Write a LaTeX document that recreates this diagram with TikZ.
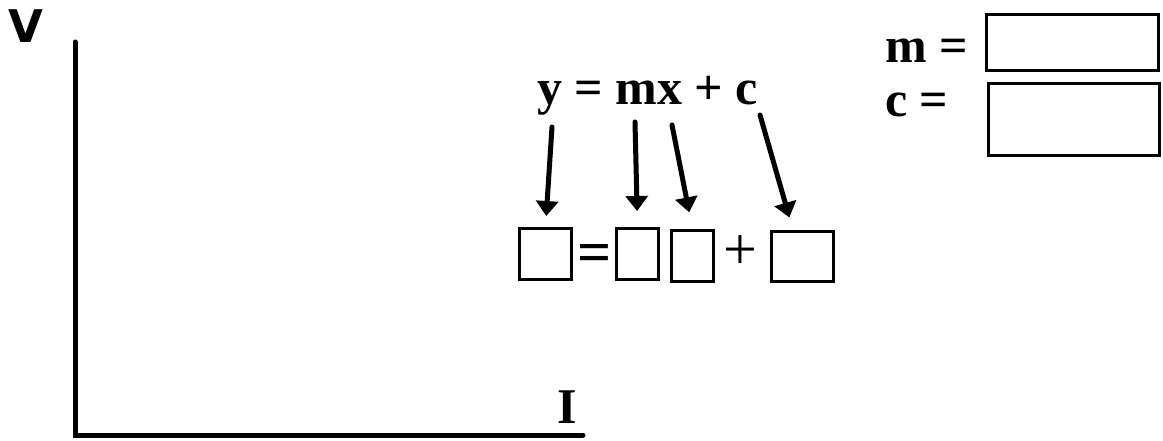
\documentclass[tikz,border=0pt]{standalone}
\usepackage{fontspec}
\setmainfont{Liberation Serif}
\newfontfamily\axisfont{DejaVu Sans}
\usetikzlibrary{positioning,arrows.meta}

\begin{document}
\begin{tikzpicture}[x=1pt, y=-1pt, >={Triangle[length=15pt,width=22pt]},
          blank/.style={draw, line width=3pt, inner sep=0pt, minimum height=51pt},
          bigtext/.style={font=\fontsize{50}{56}\selectfont\bfseries, inner sep=0pt},
          sign/.style={font=\fontsize{60}{66}\selectfont, inner sep=0pt},
          pointer/.style={->, line width=5pt, line cap=round}]
        \useasboundingbox (0,0) rectangle (1163,441);
        % axes
        \node[font=\fontsize{45}{50}\selectfont\axisfont\bfseries, inner sep=0pt] (vlab) at (26,26) {V};
        \draw[line width=5pt, line cap=round] (75,42) -- (75,435) -- (583,435);
        \node[bigtext, anchor=base] (ilab) at (567,423) {I};
        % equation and its boxes
        \node[bigtext, anchor=base west] (eq) at (537,105) {y = mx + c};
        \node[blank, minimum width=52pt] (b1) at (545.5,254) {};
        \node[sign, font=\fontsize{60}{66}\selectfont\bfseries] (eqs) at (595,258) {=};
        \node[blank, minimum width=42pt] (b2) at (637.5,254) {};
        \node[blank, minimum width=42pt] (b3) at (692.5,256) {};
        \node[sign] (pls) at (740,253) {+};
        \node[blank, minimum width=62pt, minimum height=50pt] (b4) at (802.5,256.5) {};
        \coordinate (s1) at (552,127);
        \coordinate (s2) at (635,122);
        \coordinate (s3) at (672,125);
        \coordinate (s4) at (760,115);
        \foreach \a/\b/\d in {s1/b1/11, s2/b2/16, s3/b3/17} { \draw[pointer, shorten >=\d pt] (\a) -- (\b.north); }
        \draw[pointer, shorten >=13pt] (s4) -- ([xshift=-9.5pt]b4.north);
        % answers
        \node[bigtext, anchor=base west] (mlab) at (885,63) {m =};
        \node[bigtext, anchor=base west] (clab) at (885,117) {c =};
        \node[blank, minimum width=172pt, minimum height=56pt] (mbox) at (1072.5,42.5) {};
        \node[blank, minimum width=171pt, minimum height=72pt] (cbox) at (1074,119.5) {};
      \end{tikzpicture}
\end{document}
